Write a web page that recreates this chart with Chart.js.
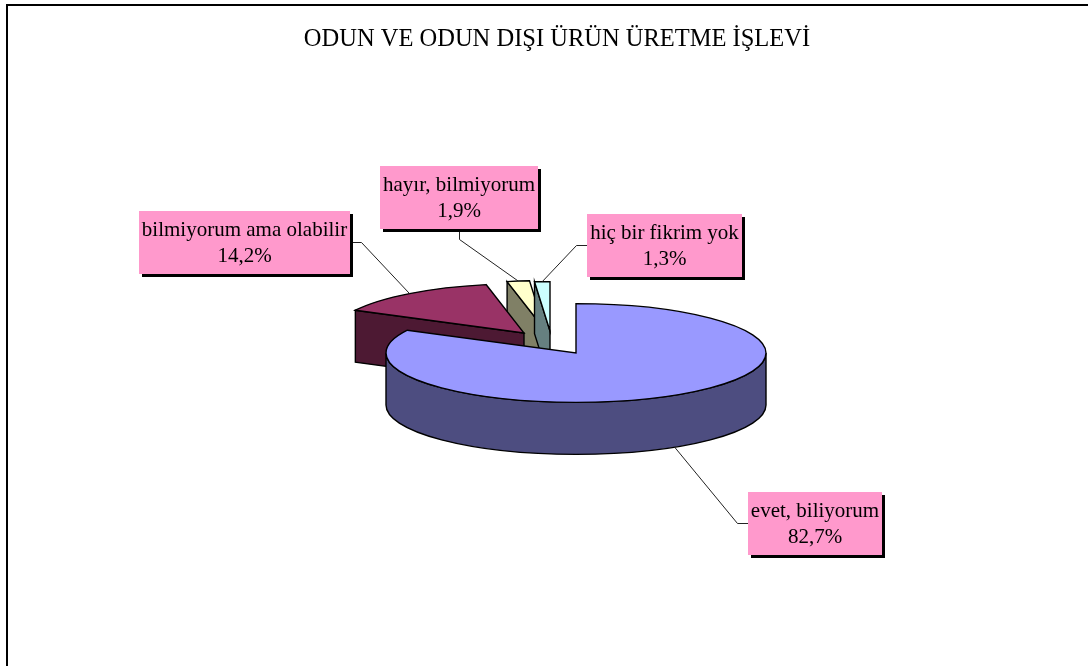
<!DOCTYPE html>
<html>
<head>
<meta charset="utf-8">
<script src="https://cdn.jsdelivr.net/npm/chart.js@4/dist/chart.umd.min.js"></script>
<style>
  html, body { margin: 0; padding: 0; background: #fff; overflow: hidden; }
  #wrap { position: absolute; left: 0; top: 0; width: 1114px; height: 666px; }
</style>
</head>
<body>
<div id="wrap"><canvas id="pieChart" width="1114" height="666"></canvas></div>
<script>
const chartTitle = 'ODUN VE ODUN DIŞI ÜRÜN ÜRETME İŞLEVİ';
const categories = ['evet, biliyorum', 'bilmiyorum ama olabilir', 'hayır, bilmiyorum', 'hiç bir fikrim yok'];
const percentValues = [82.7, 14.2, 1.9, 1.3];
const topColors = ['#9999FF', '#993366', '#FFFFCC', '#CCFFFF'];
const sideColors = ['#4D4D80', '#4D1933', '#808066', '#668080'];

// fake 3d settings
const tilt = 0.26;
const depth = 52;
const edgeWidth = 1.4;
const fontName = '"Liberation Serif", "Times New Roman", serif';
const drawOrder = [2, 3, 1, 0];
// pie sits right of the title centre
const pieShiftX = 19;
// how far each slice is pulled out, in screen px
const explodeX = [0, -52, -31, -26];
const explodeY = [0, -20, -23, -22];
// label boxes: left, top, leader start, leader elbow
const boxLeft = [748, 139, 380, 587];
const boxTop = [492, 211, 166, 214];
const leaderStart = [[748, 523], [350, 242], [459, 229], [587, 245]];
const leaderElbow = [[737, 523], [361, 242], [459, 239], [576, 245]];

function outlineTop(ctx, arc, ox, oy) {
  ctx.beginPath();
  ctx.moveTo(ox, oy);
  ctx.ellipse(ox, oy, arc.outerRadius, arc.outerRadius * tilt, 0, arc.startAngle, arc.endAngle);
  ctx.closePath();
}

function drawWalls(ctx, arc, ox, oy, color) {
  const r = arc.outerRadius;
  const ry = r * tilt;
  ctx.fillStyle = color;
  ctx.strokeStyle = '#000';
  ctx.lineWidth = edgeWidth;
  // flat cut faces, only the ones turned to the viewer
  [[arc.startAngle, -Math.PI / 2], [arc.endAngle, Math.PI / 2]].forEach(function (f) {
    if (Math.sin(f[0] + f[1]) > 0.01) {
      const px = ox + r * Math.cos(f[0]);
      const py = oy + ry * Math.sin(f[0]);
      ctx.beginPath();
      ctx.moveTo(ox, oy);
      ctx.lineTo(px, py);
      ctx.lineTo(px, py + depth);
      ctx.lineTo(ox, oy + depth);
      ctx.closePath();
      ctx.fill();
      ctx.stroke();
    }
  });
  // round outer wall, front half only
  const lo = Math.max(arc.startAngle, 0);
  const hi = Math.min(arc.endAngle, Math.PI);
  if (hi > lo) {
    ctx.beginPath();
    ctx.ellipse(ox, oy, r, ry, 0, lo, hi);
    ctx.ellipse(ox, oy + depth, r, ry, 0, hi, lo, true);
    ctx.closePath();
    ctx.fill();
    ctx.stroke();
  }
}

const pie3d = {
  id: 'pie3d',
  beforeDraw(chart) {
    // the frame only shows on top and left
    const ctx = chart.ctx;
    ctx.save();
    ctx.fillStyle = '#fff';
    ctx.fillRect(0, 0, chart.width, chart.height);
    ctx.fillStyle = '#000';
    ctx.fillRect(6, 4, chart.width, 2);
    ctx.fillRect(6, 4, 2, chart.height);
    ctx.restore();
  },
  beforeDatasetDraw(chart, args) {
    const ctx = chart.ctx;
    const arcs = args.meta.data;
    drawOrder.forEach(function (i) {
      const arc = arcs[i];
      const ox = arc.x + pieShiftX + explodeX[i];
      const oy = arc.y + explodeY[i];
      drawWalls(ctx, arc, ox, oy, sideColors[i]);
      ctx.save();
      ctx.translate(ox, oy);
      ctx.scale(1, tilt);
      ctx.translate(-arc.x, -arc.y);
      arc.draw(ctx);
      ctx.restore();
      ctx.strokeStyle = '#000';
      ctx.lineWidth = edgeWidth;
      outlineTop(ctx, arc, ox, oy);
      ctx.stroke();
    });
    return false;
  },
  afterDatasetsDraw(chart) {
    const ctx = chart.ctx;
    const arcs = chart.getDatasetMeta(0).data;
    ctx.save();
    categories.forEach(function (name, i) {
      const arc = arcs[i];
      const mid = (arc.startAngle + arc.endAngle) / 2;
      const ex = arc.x + pieShiftX + explodeX[i] + arc.outerRadius * Math.cos(mid);
      let ey = arc.y + explodeY[i] + arc.outerRadius * tilt * Math.sin(mid);
      if (Math.sin(mid) > 0) ey += depth;
      ctx.strokeStyle = '#222';
      ctx.lineWidth = 1;
      ctx.beginPath();
      ctx.moveTo(leaderStart[i][0] + 0.5, leaderStart[i][1] + 0.5);
      ctx.lineTo(leaderElbow[i][0] + 0.5, leaderElbow[i][1] + 0.5);
      ctx.lineTo(ex, ey);
      ctx.stroke();

      const pct = percentValues[i].toFixed(1).replace('.', ',') + '%';
      ctx.font = '21px ' + fontName;
      const w = Math.round(ctx.measureText(name).width) + 6;
      const x = boxLeft[i];
      const y = boxTop[i];
      ctx.fillStyle = '#000';
      ctx.fillRect(x + 3, y + 3, w, 63);
      ctx.fillStyle = '#FF99CC';
      ctx.fillRect(x, y, w, 63);
      ctx.fillStyle = '#000';
      ctx.textAlign = 'center';
      ctx.textBaseline = 'middle';
      ctx.fillText(name, x + w / 2, y + 19);
      ctx.fillText(pct, x + w / 2, y + 45);
    });
    ctx.restore();
  }
};

new Chart(document.getElementById('pieChart'), {
  type: 'pie',
  data: {
    labels: categories,
    datasets: [{
      data: percentValues,
      backgroundColor: topColors,
      borderWidth: 0,
      radius: 190
    }]
  },
  options: {
    responsive: false,
    animation: false,
    events: [],
    layout: { padding: { bottom: 14.4 } },
    plugins: {
      legend: { display: false },
      tooltip: { enabled: false },
      title: {
        display: true,
        text: chartTitle,
        color: '#000',
        font: { family: fontName, size: 24.5, weight: 'normal', lineHeight: 1.2 },
        padding: { top: 25, bottom: 0 }
      }
    }
  },
  plugins: [pie3d]
});
</script>
</body>
</html>
